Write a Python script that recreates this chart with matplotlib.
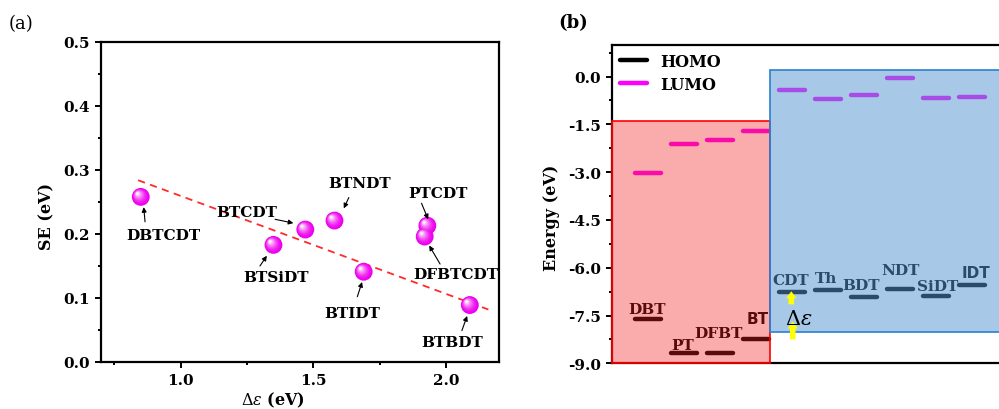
import numpy as np
import matplotlib
matplotlib.use('Agg')
import matplotlib.pyplot as plt
from matplotlib.patches import Rectangle
from matplotlib.lines import Line2D
from matplotlib.ticker import MultipleLocator, FormatStrFormatter
from matplotlib.transforms import offset_copy

plt.rcParams['font.family'] = 'DejaVu Serif'
plt.rcParams['mathtext.fontset'] = 'dejavuserif'
plt.rcParams['axes.unicode_minus'] = False

# (a) splitting energy vs. orbital offset
names = ['DBTCDT', 'BTSiDT', 'BTCDT', 'BTNDT', 'BTIDT', 'PTCDT', 'DFBTCDT', 'BTBDT']
delta_eps = [0.85, 1.35, 1.47, 1.58, 1.69, 1.93, 1.92, 2.09]
se = [0.258, 0.183, 0.207, 0.221, 0.141, 0.213, 0.196, 0.089]
fit_x = [0.84, 2.16]
fit_y = [0.284, 0.082]

# label text position, arrow tail, arrow head
label_xy = [(0.936, 0.198), (1.360, 0.133), (1.249, 0.235), (1.675, 0.279),
            (1.647, 0.077), (1.969, 0.264), (2.038, 0.138), (2.022, 0.031)]
arrow_tail = [(0.866, 0.219), (1.299, 0.150), (1.356, 0.223), (1.634, 0.257),
              (1.666, 0.102), (1.908, 0.248), (1.978, 0.153), (2.060, 0.049)]
arrow_head = [(0.861, 0.242), (1.325, 0.166), (1.425, 0.217), (1.615, 0.240),
              (1.684, 0.125), (1.933, 0.223), (1.937, 0.182), (2.080, 0.072)]

# (b) frontier orbital levels
units = ['DBT', 'PT', 'DFBT', 'BT', 'CDT', 'Th', 'BDT', 'NDT', 'SiDT', 'IDT']
homo = [-7.61, -8.69, -8.69, -8.24, -6.77, -6.71, -6.91, -6.66, -6.88, -6.54]
lumo = [-3.03, -2.12, -1.99, -1.71, -0.42, -0.70, -0.57, -0.06, -0.68, -0.65]
unit_label_xy = [(0.97, -7.28), (1.96, -8.42), (2.97, -8.05), (4.06, -7.58),
                 (4.95, -6.37), (5.95, -6.32), (6.93, -6.53), (8.01, -6.06),
                 (9.04, -6.58), (10.11, -6.16)]
sans_units = ['BT', 'IDT']

fig = plt.figure(figsize=(9.99, 4.10), dpi=100)
W, H = 999, 410


def px_axes(x0, y0, x1, y1):
    return fig.add_axes([x0 / W, 1 - y1 / H, (x1 - x0) / W, (y1 - y0) / H])


def style_spines(ax, lw=1.6):
    for s in ax.spines.values():
        s.set_linewidth(lw)
    ax.tick_params(which='both', direction='out', width=1.4)
    ax.tick_params(which='major', length=4.5, labelsize=11)
    ax.tick_params(which='minor', length=2.5)
    for lab in ax.get_xticklabels() + ax.get_yticklabels():
        lab.set_fontweight('bold')


def spheres(ax, xs, ys, s=165):
    # shaded ball: stack of shrinking, lighter discs drifting to the upper left
    R = np.sqrt(s) / 2
    n = 9
    for i in range(n):
        t = i / (n - 1)
        r = R * (1 - 0.85 * t)
        d = 0.38 * R * t
        c = np.array([0.93, 0.0, 0.93]) * (1 - t ** 1.6) + np.array([1.0, 0.95, 1.0]) * t ** 1.6
        tr = offset_copy(ax.transData, fig=fig, x=-d, y=d, units='points')
        ax.scatter(xs, ys, s=(2 * r) ** 2, color=c, edgecolors='none',
                   transform=tr, zorder=4 + i * 0.01)


# ---------- panel (a)
ax1 = px_axes(101, 43, 499, 363)
ax1.plot(fit_x, fit_y, color='#FF2A2A', lw=1.3, ls=(0, (4, 3)), zorder=3)
spheres(ax1, delta_eps, se)
for name, t, a, h in zip(names, label_xy, arrow_tail, arrow_head):
    ax1.text(t[0], t[1], name, ha='center', va='center', fontsize=11,
             fontweight='bold', zorder=6)
    ax1.annotate('', xy=h, xytext=a,
                 arrowprops=dict(arrowstyle='-|>', color='black', lw=0.8,
                                 mutation_scale=7, shrinkA=0, shrinkB=0),
                 zorder=6)
ax1.set_xlim(0.7, 2.2)
ax1.set_ylim(0.0, 0.5)
ax1.xaxis.set_major_locator(MultipleLocator(0.5))
ax1.xaxis.set_minor_locator(MultipleLocator(0.25))
ax1.yaxis.set_major_locator(MultipleLocator(0.1))
ax1.yaxis.set_minor_locator(MultipleLocator(0.05))
ax1.xaxis.set_major_formatter(FormatStrFormatter('%.1f'))
ax1.yaxis.set_major_formatter(FormatStrFormatter('%.1f'))
ax1.tick_params(which='minor', axis='x', length=4.5)
style_spines(ax1)

fig.text(273 / W, 1 - 400 / H, r'$\Delta\varepsilon$ (eV)', ha='center', va='center',
         fontsize=11.5, fontweight='bold')
fig.text(47 / W, 1 - 217 / H, 'SE (eV)', ha='center', va='center', rotation=90,
         fontsize=11.5, fontweight='bold')
fig.text(21 / W, 1 - 24 / H, '(a)', ha='center', va='center', fontsize=13)

# ---------- panel (b)
ax2 = px_axes(612, 45.7, 1008, 364.3)
xpos = np.arange(1, len(units) + 1)
half = 0.37
ax2.hlines(homo, xpos - half, xpos + half, colors='black', lw=3.2, zorder=2)
ax2.hlines(lumo, xpos - half, xpos + half, colors='#FF00FF', lw=3.2, zorder=2)
for coll in ax2.collections:
    coll.set_capstyle('round')
for u, (lx, ly) in zip(units, unit_label_xy):
    fam = 'DejaVu Sans' if u in sans_units else 'DejaVu Serif'
    ax2.text(lx, ly, u, ha='center', va='center', fontsize=11, fontweight='bold',
             family=fam, color='black', zorder=2)

# acceptor and donor windows, translucent over the levels
ax2.add_patch(Rectangle((0, -9.0), 4.4, 9.0 - 1.39, facecolor=(0.95, 0.11, 0.11, 0.37),
                        edgecolor='#FF0000', lw=1.2, zorder=3, clip_on=False))
ax2.add_patch(Rectangle((4.4, -8.02), 7.0, 8.02 + 0.22, facecolor=(0.33, 0.59, 0.82, 0.51),
                        edgecolor='#2A80D0', lw=1.2, zorder=3))

for tail, head in [((5.02, -8.25), (5.02, -7.69)), ((4.98, -7.15), (4.98, -6.74))]:
    ax2.annotate('', xy=head, xytext=tail,
                 arrowprops=dict(arrowstyle='simple,head_length=0.5,head_width=0.75,tail_width=0.4',
                                 fc='#FFFF00', ec='none', mutation_scale=10,
                                 shrinkA=0, shrinkB=0),
                 zorder=6)
ax2.text(5.18, -7.58, r'$\Delta\varepsilon$', ha='center', va='center', fontsize=15,
         zorder=6)

handles = [Line2D([], [], color='black', lw=3.2, solid_capstyle='round'),
           Line2D([], [], color='#FF00FF', lw=3.2, solid_capstyle='round')]
ax2.legend(handles, ['HOMO', 'LUMO'], loc='upper left', frameon=False,
           prop=dict(weight='bold', size=11.5), handlelength=1.7,
           borderaxespad=0.1, labelspacing=0.4, handletextpad=0.8,
           bbox_to_anchor=(0.0, 1.0))

ax2.set_xlim(0, 11)
ax2.set_ylim(-9.0, 1.0)
ax2.set_xticks([])
ax2.yaxis.set_major_locator(MultipleLocator(1.5))
ax2.yaxis.set_minor_locator(MultipleLocator(0.75))
ax2.yaxis.set_major_formatter(FormatStrFormatter('%.1f'))
style_spines(ax2)
ax2.spines['right'].set_visible(False)

fig.text(552 / W, 1 - 218 / H, 'Energy (eV)', ha='center', va='center', rotation=90,
         fontsize=11.5, fontweight='bold')
fig.text(573 / W, 1 - 23 / H, '(b)', ha='center', va='center', fontsize=13,
         fontweight='bold')

fig.savefig('out.png', dpi=100)
